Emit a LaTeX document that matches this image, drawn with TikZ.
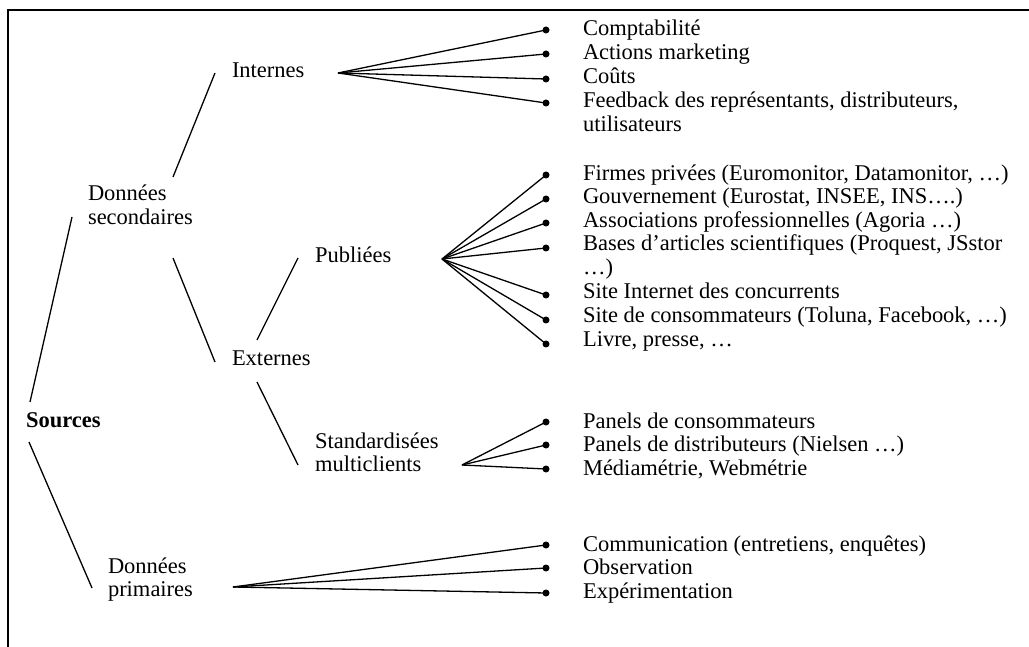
\documentclass[tikz,border=0pt]{standalone}
\usepackage{fontspec}
\setmainfont{Liberation Serif}
\newcommand\lf{\fontsize{22.5}{23.5}\selectfont}
\newcommand\twol[2]{\vtop{\hbox{#1}\hbox{#2}}}
\begin{document}
\begin{tikzpicture}[x=1pt,y=-1pt,
  every node/.style={inner sep=0pt, outer sep=0pt},
  lab/.style={anchor=base west, font=\lf},
  conn/.style={line width=1.3pt},
  dotn/.style={circle, fill=black, minimum size=7pt},
  frame/.style={line width=1.6pt}]
\useasboundingbox (0,0) rectangle (1029,647);
% frame
\coordinate (fbl) at (8,647);
\coordinate (ftl) at (8,10);
\coordinate (ftr) at (1029,10);
\draw[frame] (fbl) -- (ftl) -- (ftr);

% left labels
\node[lab, font=\lf\bfseries] (src) at (26,427) {Sources};
\node[lab] (ds) at (88,201) {\twol{Données}{secondaires}};
\node[lab] (dp) at (108,573) {\twol{Données}{primaires}};
\node[lab] (int) at (232,78) {Internes};
\node[lab] (ext) at (232,366) {Externes};
\node[lab] (pub) at (315,263) {Publiées};
\node[lab] (std) at (315,448) {\twol{Standardisées}{multiclients}};

% tree connector ends
\coordinate (srcA) at (30,402);
\coordinate (dsA) at (72,217);
\coordinate (srcB) at (29,442);
\coordinate (dpA) at (92,588);
\coordinate (dsB) at (173,177);
\coordinate (intA) at (215,73);
\coordinate (dsC) at (173,258);
\coordinate (extA) at (215,362);
\coordinate (extB) at (257,340);
\coordinate (pubA) at (298,258);
\coordinate (extC) at (257,382);
\coordinate (stdA) at (298,465);

\draw[conn] (srcA) -- (dsA);
\draw[conn] (srcB) -- (dpA);
\draw[conn] (dsB) -- (intA);
\draw[conn] (dsC) -- (extA);
\draw[conn] (extB) -- (pubA);
\draw[conn] (extC) -- (stdA);

% fan origins
\coordinate (fi) at (338,73);
\coordinate (fp) at (442,259);
\coordinate (fs) at (462,465);
\coordinate (fd) at (233,587);

% Internes
\foreach \n/\y in {1/30,2/54,3/79,4/103}{
  \node[dotn] (i\n) at (546,\y) {};
  \draw[conn] (fi) -- (i\n.center);
}
\node[lab] (ti1) at (583,36) {Comptabilité};
\node[lab] (ti2) at (583,60) {Actions marketing};
\node[lab] (ti3) at (583,84) {Coûts};
\node[lab] (ti4) at (583,108) {\twol{Feedback des représentants, distributeurs,}{utilisateurs}};

% Publiees
\foreach \n/\y in {1/175,2/199,3/223,4/248,5/295,6/320,7/344}{
  \node[dotn] (p\n) at (546,\y) {};
  \draw[conn] (fp) -- (p\n.center);
}
\node[lab] (tp1) at (583,181) {Firmes privées (Euromonitor, Datamonitor, …)};
\node[lab] (tp2) at (583,204) {Gouvernement (Eurostat, INSEE, INS….)};
\node[lab] (tp3) at (583,228) {Associations professionnelles (Agoria …)};
\node[lab] (tp4) at (583,251) {\twol{Bases d’articles scientifiques (Proquest, JSstor}{…)}};
\node[lab] (tp5) at (583,299) {Site Internet des concurrents};
\node[lab] (tp6) at (583,323) {Site de consommateurs (Toluna, Facebook, …)};
\node[lab] (tp7) at (583,346) {Livre, presse, …};

% Standardisees
\foreach \n/\y in {1/422,2/445,3/469}{
  \node[dotn] (s\n) at (546,\y) {};
  \draw[conn] (fs) -- (s\n.center);
}
\node[lab] (ts1) at (583,428) {Panels de consommateurs};
\node[lab] (ts2) at (583,451) {Panels de distributeurs (Nielsen …)};
\node[lab] (ts3) at (583,475) {Médiamétrie, Webmétrie};

% Donnees primaires
\foreach \n/\y in {1/545,2/568,3/593}{
  \node[dotn] (d\n) at (546,\y) {};
  \draw[conn] (fd) -- (d\n.center);
}
\node[lab] (td1) at (583,551) {Communication (entretiens, enquêtes)};
\node[lab] (td2) at (583,574) {Observation};
\node[lab] (td3) at (583,598) {Expérimentation};
\end{tikzpicture}
\end{document}
